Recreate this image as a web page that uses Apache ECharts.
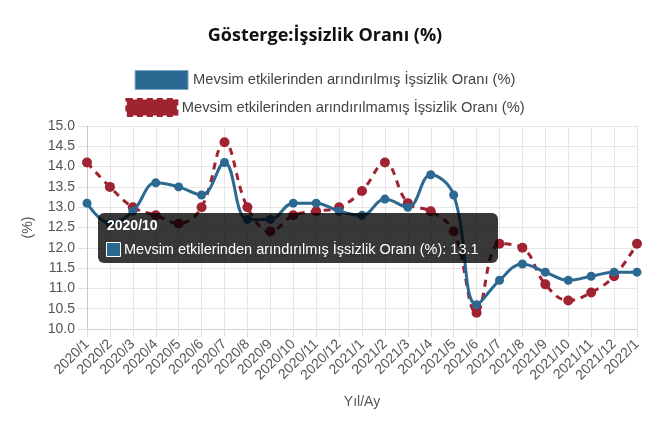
<!DOCTYPE html>
<html>
<head>
<meta charset="utf-8">
<script src="https://cdn.jsdelivr.net/npm/echarts@6/dist/echarts.min.js"></script>
<style>html,body{margin:0;padding:0;background:#fff}#c{width:650px;height:428px}</style>
</head>
<body>
<div id="c"></div>
<script>
var categories = ['2020/1','2020/2','2020/3','2020/4','2020/5','2020/6','2020/7','2020/8','2020/9','2020/10','2020/11','2020/12',
  '2021/1','2021/2','2021/3','2021/4','2021/5','2021/6','2021/7','2021/8','2021/9','2021/10','2021/11','2021/12','2022/1'];
var seasonallyAdjusted = [13.1,12.6,12.9,13.6,13.5,13.3,14.1,12.7,12.7,13.1,13.1,12.9,12.8,13.2,13.0,13.8,13.3,10.6,11.2,11.6,11.4,11.2,11.3,11.4,11.4];
var notAdjusted = [14.1,13.5,13.0,12.8,12.6,13.0,14.6,13.0,12.4,12.8,12.9,13.0,13.4,14.1,13.1,12.9,12.4,10.4,12.1,12.0,11.1,10.7,10.9,11.3,12.1];
var seriesNames = ['Mevsim etkilerinden arındırılmış İşsizlik Oranı (%)','Mevsim etkilerinden arındırılmamış İşsizlik Oranı (%)'];
var yTicks = {min:10, max:15, interval:0.5};
var tipIndex = 9;

var BLUE = '#2b6892', RED = '#a02331';
var FONT = '"Liberation Sans", Arial, sans-serif';
var chart = echarts.init(document.getElementById('c'));
chart.setOption({
  animation: false,
  title: {text: 'Gösterge:İşsizlik Oranı (%)', left: 'center', top: 22,
    textStyle: {fontFamily: '"Open Sans", sans-serif', fontSize: 18, fontWeight: 'bold', color: '#111'}},
  legend: [
    {data: [{name: seriesNames[0], itemStyle: {color: BLUE, borderColor: '#7fa9c6', borderWidth: 1}}],
     left: 'center', top: 65, itemWidth: 53, itemHeight: 19, itemGap: 5, icon: 'rect',
     textStyle: {fontFamily: FONT, fontSize: 14.7, color: '#444'}},
    {data: [{name: seriesNames[1], itemStyle: {color: RED, borderColor: RED, borderWidth: 3, borderType: [6,4]}}],
     left: 'center', top: 93, itemWidth: 50, itemHeight: 16, itemGap: 5, icon: 'rect',
     textStyle: {fontFamily: FONT, fontSize: 14.7, color: '#444'}}
  ],
  grid: {left: 87, right: 13, top: 126, bottom: 99, outerBoundsMode: 'none', containLabel: false},
  xAxis: {type: 'category', data: categories, boundaryGap: false,
    name: 'Yıl/Ay', nameLocation: 'middle', nameGap: 66,
    nameTextStyle: {fontFamily: FONT, fontSize: 14, color: '#555'},
    axisLine: {lineStyle: {color: '#d0d0d0'}},
    axisTick: {show: true, length: 8, lineStyle: {color: '#e0e0e0'}},
    axisLabel: {rotate: 45, interval: 0, fontFamily: FONT, fontSize: 14, color: '#555', margin: 13},
    splitLine: {show: true, lineStyle: {color: '#e6e6e6'}}},
  yAxis: {type: 'value', min: yTicks.min, max: yTicks.max, interval: yTicks.interval,
    name: '(%)', nameLocation: 'middle', nameGap: 52,
    nameTextStyle: {fontFamily: FONT, fontSize: 14, color: '#555'},
    axisLine: {show: true, lineStyle: {color: '#c8c8c8'}},
    axisTick: {show: true, length: 9, lineStyle: {color: '#e0e0e0'}},
    axisLabel: {fontFamily: FONT, fontSize: 14, color: '#555', margin: 12,
      formatter: function (v) { return v.toFixed(1); }},
    splitLine: {lineStyle: {color: '#e6e6e6'}}},
  series: [
    {name: seriesNames[0], type: 'line', data: seasonallyAdjusted, smooth: 0.4,
     symbol: 'circle', symbolSize: 9, z: 3,
     lineStyle: {color: BLUE, width: 3}, itemStyle: {color: BLUE}},
    {name: seriesNames[1], type: 'line', data: notAdjusted, smooth: 0.4,
     symbol: 'circle', symbolSize: 10, z: 2,
     lineStyle: {color: RED, width: 3, type: [7,6]}, itemStyle: {color: RED}}
  ],
  graphic: [{
    type: 'group', left: 98, top: 213, z: 100, zlevel: 1,
    children: [
      {type: 'rect', z: 100, zlevel: 1, shape: {x: 0, y: 0, width: 400, height: 50, r: 6}, style: {fill: 'rgba(0,0,0,0.78)'}},
      {type: 'text', z: 101, zlevel: 1, x: 9, y: 13, style: {text: categories[tipIndex], fill: '#fff', font: 'bold 14px ' + FONT, verticalAlign: 'middle'}},
      {type: 'rect', z: 101, zlevel: 1, shape: {x: 8.5, y: 29.5, width: 14, height: 14}, style: {fill: BLUE, stroke: '#fff', lineWidth: 1}},
      {type: 'text', z: 101, zlevel: 1, x: 26, y: 37, style: {text: seriesNames[0] + ': ' + seasonallyAdjusted[tipIndex], fill: '#fff', font: '14.5px ' + FONT, verticalAlign: 'middle'}}
    ]
  }]
});
</script>
</body>
</html>
